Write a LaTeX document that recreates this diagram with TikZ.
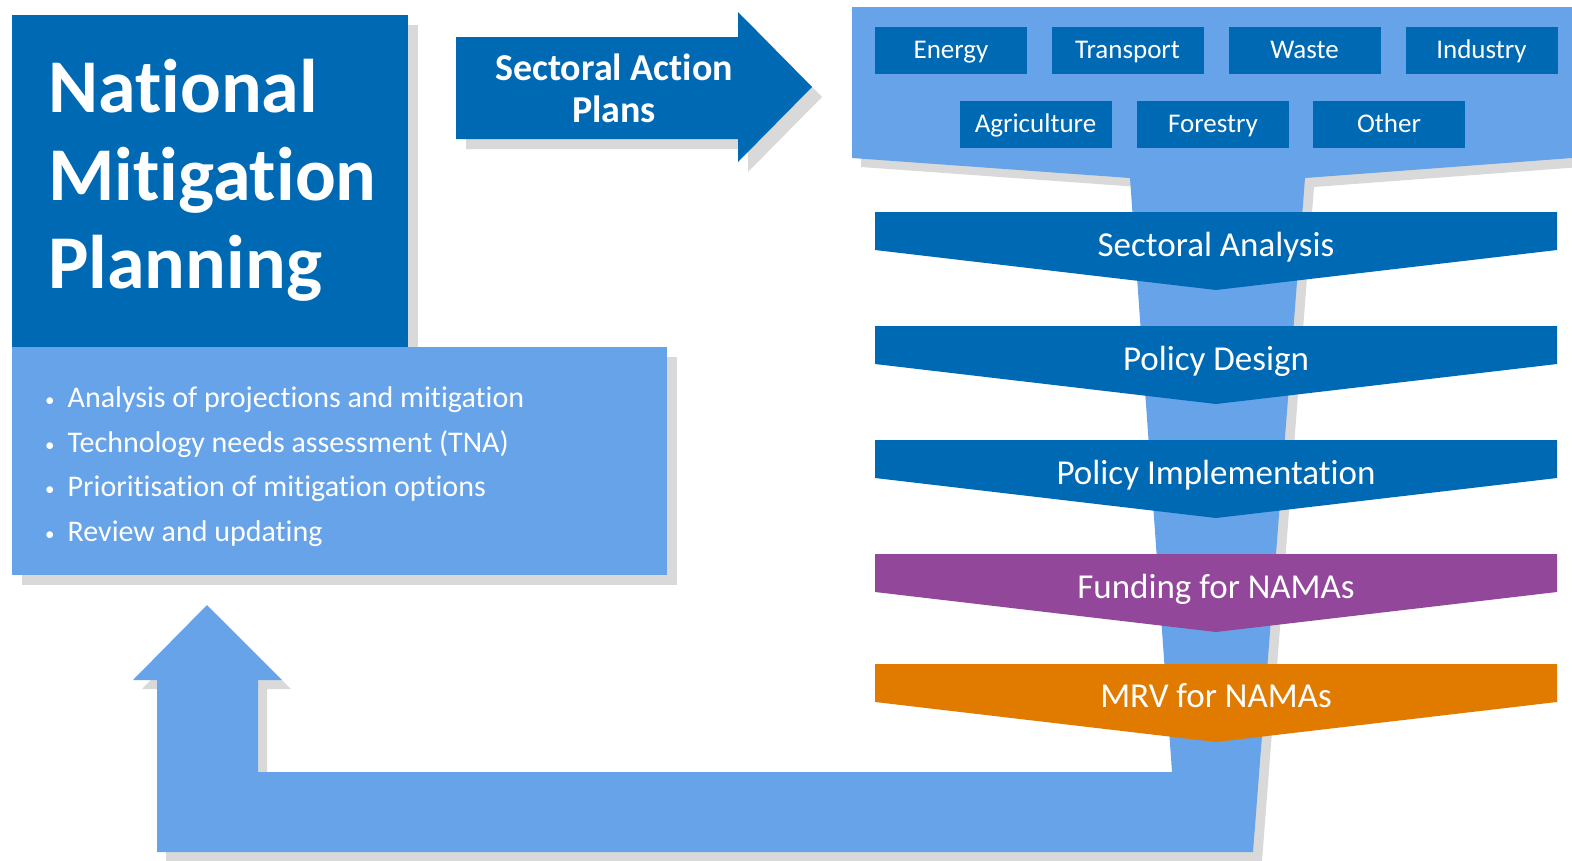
\documentclass[tikz,border=0pt]{standalone}
\usepackage{fontspec}
\setmainfont{Carlito}[Ligatures=NoCommon]
\definecolor{dblue}{HTML}{0069B4}
\definecolor{lblue}{HTML}{66A3E8}
\definecolor{shadowgray}{HTML}{D9D9D9}
\definecolor{purp}{HTML}{92479A}
\definecolor{orng}{HTML}{E17B00}
\newcommand{\smallbullet}{{\fontsize{19}{20}\selectfont\raisebox{1pt}{•}}}
\tikzset{
  wtxt/.style={text=white, inner sep=0pt},
  sectorbox/.style={fill=dblue, minimum width=152pt, minimum height=47pt, inner sep=0pt, text height=24pt, text depth=6.6pt, text=white, font=\fontsize{27}{30}\selectfont},
  chevtxt/.style={text=white, inner sep=0pt, anchor=base, font=\fontsize{35}{38}\selectfont},
  bullettxt/.style={text=white, inner sep=0pt, anchor=base west, font=\fontsize{30}{32}\selectfont},
  titletxt/.style={text=white, inner sep=0pt, anchor=base west, font=\fontsize{76}{88}\selectfont\bfseries},
  sh/.style={fill=shadowgray},
}
\begin{document}
\begin{tikzpicture}[x=1pt,y=-1pt]
\useasboundingbox (0,0) rectangle (1572,860);
% shadows
\fill[sh] (22,25) rectangle (418,357);
\fill[sh] (22,357) rectangle (677,585);
\fill[sh,shift={(10,10)}] (456,37) -- (738,37) -- (738,12) -- (812,87) -- (738,162) -- (738,139) -- (456,139) -- cycle;
\fill[sh,shift={(9,9)}] (852,7) -- (1572,7) -- (1572,158) -- (1305,178) -- (1253,852) -- (157,852) -- (157,680) -- (133,680) -- (207,605) -- (282,680) -- (258,680) -- (258,772) -- (1172,772) -- (1130,178) -- (852,158) -- cycle;
% main shapes
\fill[dblue] (12,15) rectangle (408,347);
\fill[lblue] (12,347) rectangle (667,575);
\fill[dblue] (456,37) -- (738,37) -- (738,12) -- (812,87) -- (738,162) -- (738,139) -- (456,139) -- cycle;
\fill[lblue] (852,7) -- (1572,7) -- (1572,158) -- (1305,178) -- (1253,852) -- (157,852) -- (157,680) -- (133,680) -- (207,605) -- (282,680) -- (258,680) -- (258,772) -- (1172,772) -- (1130,178) -- (852,158) -- cycle;
% title
\node[titletxt] (t1) at (48,112) {National};
\node[titletxt] (t2) at (48,200) {Mitigation};
\node[titletxt] (t3) at (48,288) {Planning};
% bullets
\node[bullettxt] (b1) at (45,407) {\smallbullet\hspace{13pt}Analysis of projections and mitigation};
\node[bullettxt] (b2) at (45,452) {\smallbullet\hspace{13pt}Technology needs assessment (TNA)};
\node[bullettxt] (b3) at (45,496) {\smallbullet\hspace{13pt}Prioritisation of mitigation options};
\node[bullettxt] (b4) at (45,541) {\smallbullet\hspace{13pt}Review and updating};
% sectoral action plans
\node[wtxt, align=center, font=\fontsize{38}{42}\selectfont\bfseries] (sap) at (614,88) {Sectoral Action\\Plans};
% sector boxes
\node[sectorbox] (energy) at (951,50) {Energy};
\node[sectorbox] (transport) at (1127.5,50) {Transport};
\node[sectorbox] (waste) at (1304.5,50) {Waste};
\node[sectorbox] (industry) at (1481.5,50) {Industry};
\node[sectorbox] (agri) at (1035.5,124) {Agriculture};
\node[sectorbox] (forestry) at (1213,124) {Forestry};
\node[sectorbox] (other) at (1389,124) {Other};
% chevrons
\fill[dblue] (875,212) -- (1557,212) -- (1557,250) -- (1216,290) -- (875,250) -- cycle;
\fill[dblue] (875,326) -- (1557,326) -- (1557,364) -- (1216,404) -- (875,364) -- cycle;
\fill[dblue] (875,440) -- (1557,440) -- (1557,478) -- (1216,518) -- (875,478) -- cycle;
\fill[purp] (875,554) -- (1557,554) -- (1557,592) -- (1216,632) -- (875,592) -- cycle;
\fill[orng] (875,664) -- (1557,664) -- (1557,702) -- (1216,742) -- (875,702) -- cycle;
\node[chevtxt] (c1) at (1216,256.5) {Sectoral Analysis};
\node[chevtxt] (c2) at (1216,370) {Policy Design};
\node[chevtxt] (c3) at (1216,484) {Policy Implementation};
\node[chevtxt] (c4) at (1216,598) {Funding for NAMAs};
\node[chevtxt] (c5) at (1216,707) {MRV for NAMAs};
\end{tikzpicture}
\end{document}
